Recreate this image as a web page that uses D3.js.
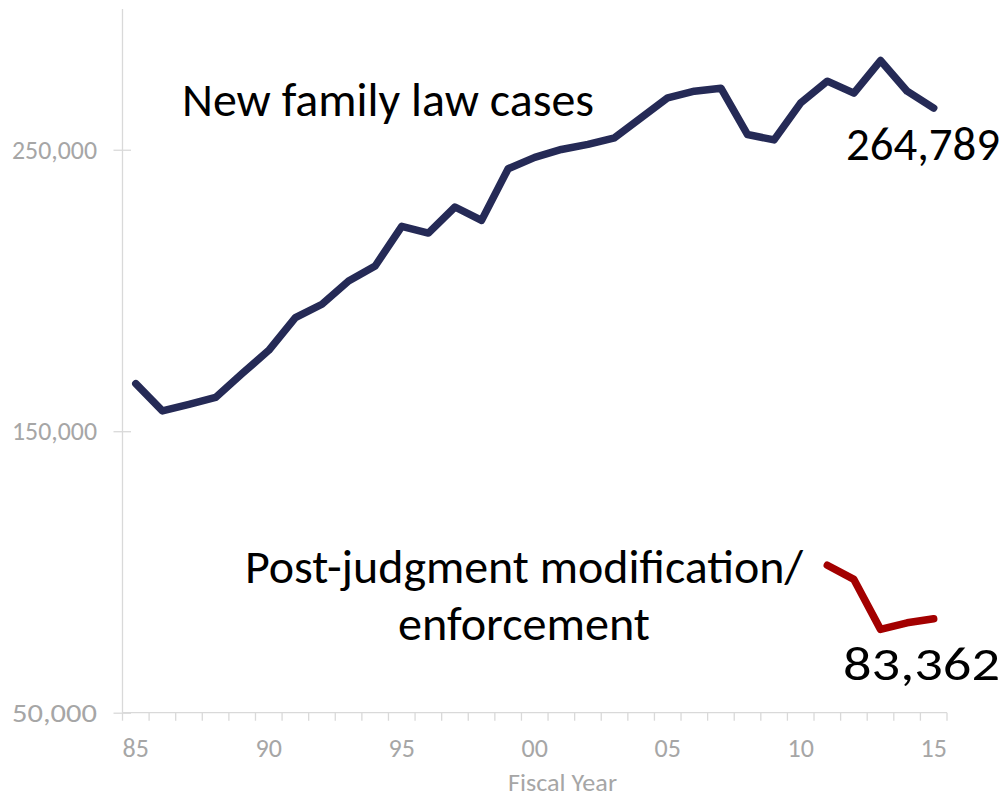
<!DOCTYPE html>
<html><head><meta charset="utf-8">
<script src="https://cdn.jsdelivr.net/npm/d3@7"></script>
<style>html,body{margin:0;padding:0;background:#fff;}</style>
</head><body>
<svg id="c" width="1005" height="797"></svg>
<script>
const years = d3.range(1985, 2016);
const newCases = [166900,157200,159500,162000,170500,178750,190350,195100,203350,208700,222800,220400,229650,224900,243250,247300,250100,251900,254250,261350,268450,270800,271850,255400,253500,266650,274350,270100,281700,270800,264789];
const postYears = [2011,2012,2013,2014,2015];
const postJudgment = [102400,97350,79600,81950,83362];
const yTicks = [50000,150000,250000];
const xTickYears = [1985,1990,1995,2000,2005,2010,2015];

const svg = d3.select("#c");
const FONT = "Carlito, Calibri, 'Open Sans', sans-serif";
const x = d3.scaleBand().domain(years).range([122.5, 947]).padding(0);
const y = d3.scaleLinear().domain([50000, 300000]).range([712.7, 9]);
const cx = d => x(d) + x.bandwidth()/2;

// y axis
const yAx = svg.append("g").attr("transform","translate(122.5,0)")
  .call(d3.axisLeft(y).tickValues(yTicks).tickSize(8).tickFormat(d3.format(",")));
yAx.select(".domain").remove();
yAx.append("line").attr("x1",0).attr("x2",0).attr("y1",y(300000)).attr("y2",y(50000)).attr("stroke","#d9d9d9").attr("stroke-width",1.3);
yAx.selectAll(".tick line").attr("x1",-9).attr("x2",8.5).attr("stroke","#d9d9d9").attr("stroke-width",1.3);
yAx.selectAll(".tick text").attr("x",-25.5).attr("dy","0.33em").attr("fill","#a6a6a6")
  .style("font-family",FONT).style("font-size","26px")
  .attr("textLength",85).attr("lengthAdjust","spacingAndGlyphs");

// x axis
const xg = svg.append("g");
xg.append("line").attr("x1",122.5).attr("x2",947).attr("y1",y(50000)).attr("y2",y(50000)).attr("stroke","#d9d9d9").attr("stroke-width",1.3);
const bounds = years.map(d => x(d)).concat([x(2015)+x.bandwidth()]);
xg.selectAll("line.t").data(bounds).enter().append("line").attr("class","t")
  .attr("x1",d=>d).attr("x2",d=>d).attr("y1",y(50000)).attr("y2",y(50000)+8)
  .attr("stroke","#d9d9d9").attr("stroke-width",1.3);
xg.selectAll("text.xl").data(xTickYears).enter().append("text").attr("class","xl")
  .attr("x",d=>cx(d)).attr("y",756.5).attr("text-anchor","middle")
  .attr("fill","#a6a6a6").style("font-family",FONT).style("font-size","26px")
  .text(d => String(d).slice(2));
svg.append("text").attr("x",562.5).attr("y",790.5).attr("text-anchor","middle")
  .attr("fill","#a6a6a6").style("font-family",FONT).style("font-size","24.5px")
  .attr("textLength",109).attr("lengthAdjust","spacingAndGlyphs")
  .text("Fiscal Year");

// lines
const line = d3.line().x(d=>cx(d[0])).y(d=>y(d[1]));
svg.append("path").datum(years.map((yr,i)=>[yr,newCases[i]]))
  .attr("d",line).attr("fill","none").attr("stroke","#252a56").attr("stroke-width",7.5)
  .attr("stroke-linejoin","round").attr("stroke-linecap","round");
svg.append("path").datum(postYears.map((yr,i)=>[yr,postJudgment[i]]))
  .attr("d",line).attr("fill","none").attr("stroke","#a30000").attr("stroke-width",7.5)
  .attr("stroke-linejoin","round").attr("stroke-linecap","round");

// annotations
function label(t, xx, yy, w){
  svg.append("text").attr("x",xx).attr("y",yy)
    .attr("fill","#000").style("font-family",FONT).style("font-size","47px")
    .attr("textLength",w).attr("lengthAdjust","spacingAndGlyphs").text(t);
}
label("New family law cases",182,116,412);
label(d3.format(",")(newCases[newCases.length-1]),846,160,154);
label("Post-judgment modification/",245,583,558);
label("enforcement",398,640,252);
label(d3.format(",")(postJudgment[postJudgment.length-1]),843,680,157);
</script>
</body></html>
